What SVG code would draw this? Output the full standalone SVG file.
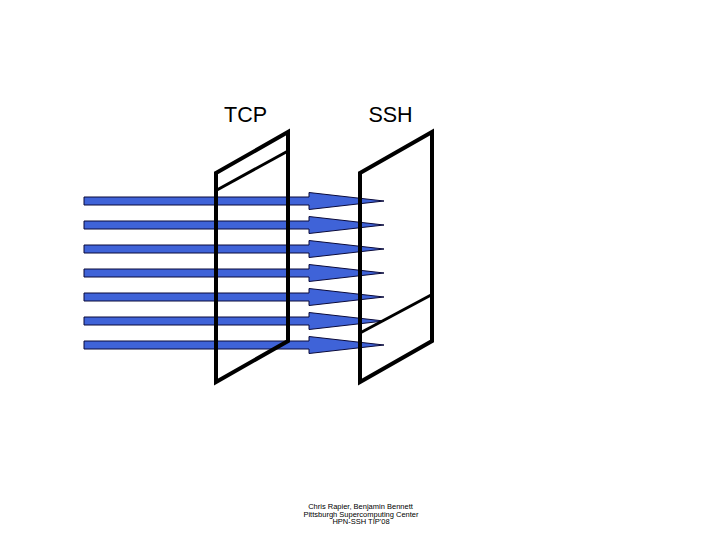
<svg xmlns="http://www.w3.org/2000/svg" width="720" height="540" viewBox="0 0 720 540">
<defs>
<style>
.lbl{font-family:"Liberation Sans",Arial,sans-serif;fill:#000}
.title{font-size:21.5px;text-anchor:middle}
.foot{font-size:7.5px;text-anchor:middle}
.arrow{fill:#3f63d8;stroke:#0a0a3a;stroke-width:1}
.frame{fill:none;stroke:#000;stroke-width:4;stroke-linejoin:miter}
.thin{fill:none;stroke:#000;stroke-width:3}
</style>
<polygon id="arr" class="arrow" points="84,-4 309,-4 309,-8.5 384,0 309,8.5 309,4 84,4"/>
</defs>
<rect width="720" height="540" fill="#fff"/>
<g id="connectors">
<use href="#arr" y="201"/>
<use href="#arr" y="225"/>
<use href="#arr" y="249"/>
<use href="#arr" y="273"/>
<use href="#arr" y="297"/>
<use href="#arr" y="321"/>
<use href="#arr" y="345"/>
</g>
<g id="tcp">
<polygon class="frame" points="216,173 288,132 288,341 216,382"/>
<line class="thin" x1="216" y1="190.5" x2="288" y2="151"/>
<text class="lbl title" x="245.5" y="122">TCP</text>
</g>
<g id="ssh">
<polygon class="frame" points="360,173 432,132 432,341 360,382"/>
<line class="thin" x1="360" y1="333" x2="432" y2="294.5"/>
<text class="lbl title" x="390.5" y="122">SSH</text>
</g>
<g id="footer">
<text class="lbl foot" x="360.5" y="509">Chris Rapier, Benjamin Bennett</text>
<text class="lbl foot" x="361" y="516.5">Pittsburgh Supercomputing Center</text>
<text class="lbl foot" x="361" y="524">HPN-SSH TIP'08</text>
</g>
</svg>
